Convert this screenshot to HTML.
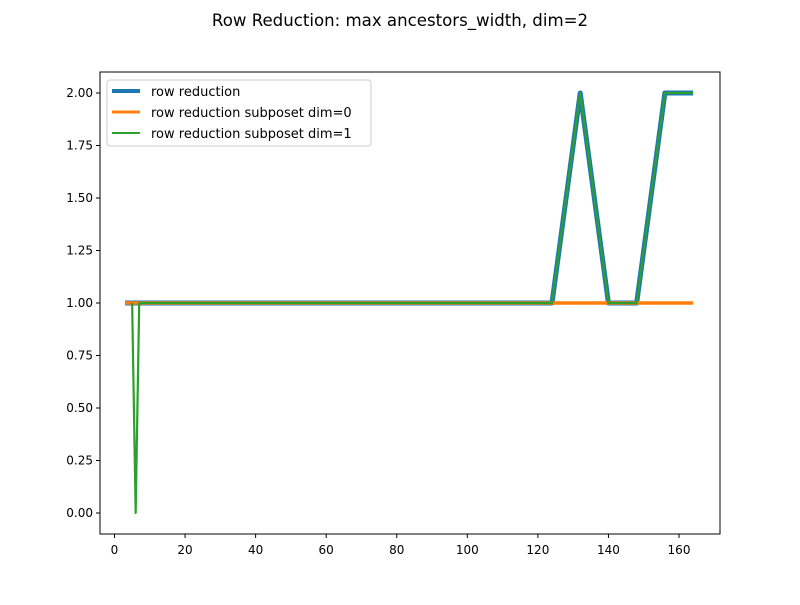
<!DOCTYPE html>
<html><head><meta charset="utf-8"><style>
body{margin:0;background:#fff;font-family:"Liberation Sans","DejaVu Sans",sans-serif}
</style></head><body>
<svg width="800" height="600" xmlns="http://www.w3.org/2000/svg" font-family="DejaVu Sans, Liberation Sans, sans-serif">
<rect width="800" height="600" fill="#fff"/>
<text x="400" y="26" text-anchor="middle" font-size="16.6">Row Reduction: max ancestors_width, dim=2</text>
<g id="plot"></g>
<rect x="100" y="72" width="620" height="462" fill="none" stroke="#000" stroke-width="1"/>
<g id="legend">
<rect x="107" y="80" width="264" height="66" rx="3" fill="#fff" fill-opacity="0.8" stroke="#ccc"/>
<line x1="112" y1="91" x2="140" y2="91" stroke="#1f77b4" stroke-width="4"/>
<text x="151" y="96" font-size="13">row reduction</text>
<line x1="112" y1="112" x2="140" y2="112" stroke="#ff7f0e" stroke-width="3"/>
<text x="151" y="117" font-size="13">row reduction subposet dim=0</text>
<line x1="112" y1="133" x2="140" y2="133" stroke="#2ca02c" stroke-width="2"/>
<text x="151" y="138" font-size="13">row reduction subposet dim=1</text>
</g>
</svg>
<script>
const xBlue = [3, 124, 132, 140, 148, 156, 164];
const yBlue = [1, 1, 2, 1, 1, 2, 2];
const xOrange = [3, 164];
const yOrange = [1, 1];
const xGreen = [5, 6, 7, 124, 132, 140, 148, 156, 164];
const yGreen = [1, 0, 1, 1, 2, 1, 1, 2, 2];
const xTicks = [0, 20, 40, 60, 80, 100, 120, 140, 160];
const yTicks = [0, 0.25, 0.5, 0.75, 1, 1.25, 1.5, 1.75, 2];
const sx = v => 114.5 + v * (679 - 114.5) / 160;
const sy = v => 513 - v * (513 - 93) / 2;
const ns = "http://www.w3.org/2000/svg";
const g = document.getElementById('plot');
function mk(tag, attrs, parent) {
  const e = document.createElementNS(ns, tag);
  for (const k in attrs) e.setAttribute(k, attrs[k]);
  (parent || g).appendChild(e);
  return e;
}
xTicks.forEach(t => {
  const l = mk('line', {x1: sx(t), x2: sx(t), y1: 534, y2: 538, stroke: '#000'});
  
  
  const tx = mk('text', {x: sx(t), y: 554, 'text-anchor': 'middle', 'font-size': 12});
  tx.textContent = t;
  
  
});
yTicks.forEach(t => {
  const l = mk('line', {x1: 96, x2: 100, y1: sy(t), y2: sy(t), stroke: '#000'});
  
  
  const tx = mk('text', {x: 93, y: sy(t) + 4, 'text-anchor': 'end', 'font-size': 12});
  tx.textContent = t.toFixed(2);
  
  
});
function line(xs, ys, color, w, name) {
  const p = mk('polyline', {points: xs.map((x, i) => sx(x) + ',' + sy(ys[i])).join(' '), fill: 'none', stroke: color, 'stroke-width': w, 'stroke-linejoin': 'round'});
  
  
}
line(xBlue, yBlue, '#1f77b4', 5, 'series-row-reduction');
line(xOrange, yOrange, '#ff7f0e', 3.5, 'series-subposet-dim0');
line(xGreen, yGreen, '#2ca02c', 2.2, 'series-subposet-dim1');
</script>
</body></html>
